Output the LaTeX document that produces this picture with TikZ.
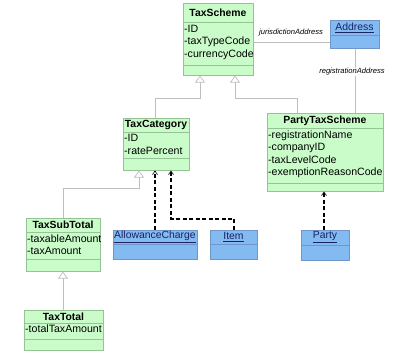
\documentclass[tikz,border=0pt]{standalone}
\usepackage{fontspec}
\setmainfont{Liberation Sans}
\usetikzlibrary{arrows.meta}
\definecolor{gfill}{RGB}{202,252,202}
\definecolor{gdraw}{RGB}{150,195,150}
\definecolor{bfill}{RGB}{132,186,242}
\definecolor{bdraw}{RGB}{110,150,200}
\definecolor{btext}{RGB}{25,35,95}
\definecolor{glin}{RGB}{190,190,190}
\begin{document}
\begin{tikzpicture}[x=1pt,y=-1pt,
  gbox/.style={draw=gdraw,fill=gfill,line width=0.6pt,inner sep=0pt,anchor=north west},
  bbox/.style={draw=bdraw,fill=bfill,line width=0.6pt,inner sep=0pt,anchor=north west},
  gsep/.style={draw=gdraw,line width=0.6pt},
  bsep/.style={draw=bdraw,line width=0.6pt},
  gtitle/.style={font=\fontsize{10.4}{12}\selectfont\bfseries,inner sep=0pt},
  btitle/.style={font=\fontsize{10.4}{12}\selectfont,text=btext,inner sep=0pt},
  attrs/.style={font=\fontsize{10.6}{12.4}\selectfont,inner sep=0pt,anchor=north west,align=left},
  role/.style={font=\fontsize{7.6}{9}\selectfont\itshape,inner sep=0.5pt,fill=white},
  gen/.style={draw=glin,line width=0.7pt,-{Triangle[open,width=10pt,length=7pt,fill=white]}},
  assoc/.style={draw=glin,line width=0.7pt},
  dep/.style={draw=black,line width=1.6pt,dash pattern=on 4pt off 2.5pt,-{Straight Barb[length=3.5pt,width=5pt,line width=0.6pt]}}
]
\useasboundingbox[fill=white] (0,0) rectangle (397,352);

% TaxScheme
\node[gbox,minimum width=70pt,minimum height=72pt] (ts) at (183,3) {};
\draw[gsep] (183,22) -- (253,22) (183,65) -- (253,65);
\node[gtitle] (tst) at (218,12.5) {TaxScheme};
\node[attrs] (tsa) at (184,25) {-ID\\-taxTypeCode\\-currencyCode};

% Address
\node[bbox,minimum width=49pt,minimum height=28pt] (ad) at (330,20) {};
\draw[bsep] (330,35) -- (379,35);
\node[btitle] (adt) at (354.5,28) {\underline{Address}};

% TaxCategory
\node[gbox,minimum width=66pt,minimum height=52pt] (tc) at (123,118) {};
\draw[gsep] (123,132) -- (189,132) (123,158) -- (189,158);
\node[gtitle] (tct) at (156,125) {TaxCategory};
\node[attrs] (tca) at (124,134.5) {-ID\\-ratePercent};

% PartyTaxScheme
\node[gbox,minimum width=116pt,minimum height=78pt] (pts) at (267,113) {};
\draw[gsep] (267,128) -- (383,128) (267,183) -- (383,183);
\node[gtitle] (ptst) at (325,120.5) {PartyTaxScheme};
\node[attrs] (ptsa) at (268,130.5) {-registrationName\\-companyID\\-taxLevelCode\\-exemptionReasonCode};

% TaxSubTotal
\node[gbox,minimum width=74pt,minimum height=53pt] (sub) at (26,218) {};
\draw[gsep] (26,232) -- (100,232) (26,259) -- (100,259);
\node[gtitle] (subt) at (63,225) {TaxSubTotal};
\node[attrs] (suba) at (27,234.5) {-taxableAmount\\-taxAmount};

% TaxTotal
\node[gbox,minimum width=79pt,minimum height=40pt] (tot) at (24,310) {};
\draw[gsep] (24,323) -- (103,323) (24,339) -- (103,339);
\node[gtitle] (tott) at (63.5,316.5) {TaxTotal};
\node[attrs] (tota) at (25,325) {-totalTaxAmount};

% AllowanceCharge
\node[bbox,minimum width=84pt,minimum height=29pt] (ac) at (113,230) {};
\draw[bsep] (113,244) -- (197,244);
\node[btitle] (act) at (155,237) {\underline{AllowanceCharge}};

% Item
\node[bbox,minimum width=47pt,minimum height=29pt] (it) at (210,230) {};
\draw[bsep] (210,244) -- (257,244);
\node[btitle] (itt) at (233.5,237) {\underline{Item}};

% Party
\node[bbox,minimum width=48pt,minimum height=30pt] (pa) at (301,230) {};
\draw[bsep] (301,245) -- (349,245);
\node[btitle] (pat) at (325,237.5) {\underline{Party}};

% associations
\draw[assoc] (ts.east |- 0,42) -- (ad.west |- 0,42);
\node[role] (r1) at (291,33) {jurisdictionAddress};
\draw[assoc] (ad.south -| 355,0) -- (pts.north -| 355,0);
\node[role] (r2) at (352,72) {registrationAddress};

% generalizations
\draw[gen] (tc.north -| 155,0) -- (155,98) -- (200,98) -- (ts.south -| 200,0);
\draw[gen] (pts.north -| 297,0) -- (297,98) -- (235,98) -- (ts.south -| 235,0);
\draw[gen] (sub.north -| 63,0) -- (63,188) -- (139,188) -- (tc.south -| 139,0);
\draw[gen] (tot.north -| 63,0) -- (sub.south -| 63,0);

% dependencies
\draw[dep] (ac.north -| 155,0) -- (tc.south -| 155,0);
\draw[dep] (it.north -| 234,0) -- (234,219) -- (171,219) -- (tc.south -| 171,0);
\draw[dep] (pa.north -| 324,0) -- (pts.south -| 324,0);
\end{tikzpicture}
\end{document}
